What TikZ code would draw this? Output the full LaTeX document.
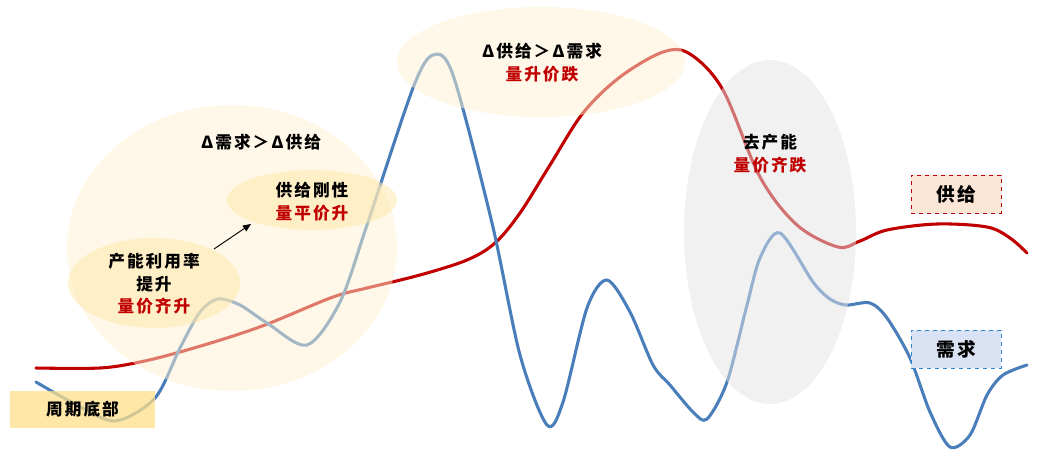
\documentclass[tikz,border=0pt]{standalone}
\usepackage{fontspec}
\newfontfamily\cjk[LetterSpace=12]{Noto Sans CJK SC}
\usetikzlibrary{arrows.meta}
\definecolor{supred}{HTML}{C00000}
\definecolor{demblue}{HTML}{4A7EBB}
\definecolor{bigcream}{HTML}{FFF0D0}
\definecolor{midcream}{HTML}{FFE7A8}
\definecolor{lgray}{HTML}{E3E3E3}
\definecolor{botyel}{HTML}{FFE08A}
\definecolor{supfill}{HTML}{FBE5D6}
\definecolor{demfill}{HTML}{DAE3F3}
\definecolor{demborder}{HTML}{2E86D6}
\tikzset{
  curve/.style={line width=2.3pt, line cap=round, line join=round},
  blob/.style={draw=none, fill opacity=0.5},
  lbl/.style={font=\cjk\bfseries\fontsize{12.5}{17}\selectfont, align=center, text=black},
  legendbox/.style={minimum width=67.5pt, minimum height=28.5pt, font=\cjk\bfseries\fontsize{14}{16}\selectfont, dashed, line width=0.6pt},
}
\begin{document}
\begin{tikzpicture}[x=0.75pt, y=-0.75pt]
\useasboundingbox (0,0) rectangle (1037,450);
% curves
\draw[curve, supred] plot[smooth, tension=0.55] coordinates {
 (36,368) (100,368) (140,362) (180,352) (230,337) (270,323) (333,297) (367,288)
 (420,275) (467,260) (495,243) (520,213) (550,165) (583,113) (620,77) (663,52)
 (690,54) (723,90) (760,177) (797,225) (838,247) (860,241) (887,230) (937,224)
 (987,227) (1010,238) (1027,253)};
\draw[curve, demblue] plot[smooth, tension=0.5] coordinates {
 (36,382) (75,404) (115,421) (155,398) (180,348) (200,312) (218,299) (240,305)
 (267,323) (307,345) (340,302) (367,225) (413,88) (433,55) (453,75) (492,223)
 (520,355) (547,425) (563,402) (587,308) (607,280) (630,312) (653,365) (670,385)
 (693,412) (707,419) (727,382) (747,305) (760,258) (780,233) (813,282) (830,299)
 (846,305) (870,303) (887,318) (910,358) (930,412) (950,447) (970,435) (987,395)
 (1003,375) (1027,365)};
% blobs
\fill[blob, bigcream] (232,248) ellipse [x radius=165, y radius=143];
\fill[blob, bigcream] (541,62) ellipse [x radius=144, y radius=55];
\fill[blob, midcream] (312,200) ellipse [x radius=85, y radius=30];
\fill[blob, midcream] (154,283) ellipse [x radius=86, y radius=45];
\fill[blob, lgray] (770,232) ellipse [x radius=86, y radius=172];
% bottom box
\node[fill=botyel, fill opacity=0.75, text opacity=1, minimum width=108.75pt, minimum height=27.75pt, inner sep=0pt, lbl] (bottom) at (82.5,409.5) {周期底部};
% labels
\node[lbl] (dd) at (261,142) {Δ需求＞Δ供给};
\node[lbl] (rig) at (312,202) {供给刚性\\\textcolor{supred}{量平价升}};
\node[lbl] (util) at (154,284) {产能利用率\\提升\\\textcolor{supred}{量价齐升}};
\node[lbl] (ds) at (542,63) {Δ供给＞Δ需求\\\textcolor{supred}{量升价跌}};
\node[lbl] (cut) at (770,154) {去产能\\\textcolor{supred}{量价齐跌}};
% arrow
\coordinate (a1) at (214,249);
\coordinate (a2) at (251,224);
\draw[-{Triangle[length=6pt,width=5pt]}, line width=0.7pt] (a1) -- (a2);
% legend
\node[legendbox, fill=supfill, draw=supred] (sup) at (956,194) {供给};
\node[legendbox, fill=demfill, draw=demborder] (dem) at (956,349) {需求};
\end{tikzpicture}
\end{document}
